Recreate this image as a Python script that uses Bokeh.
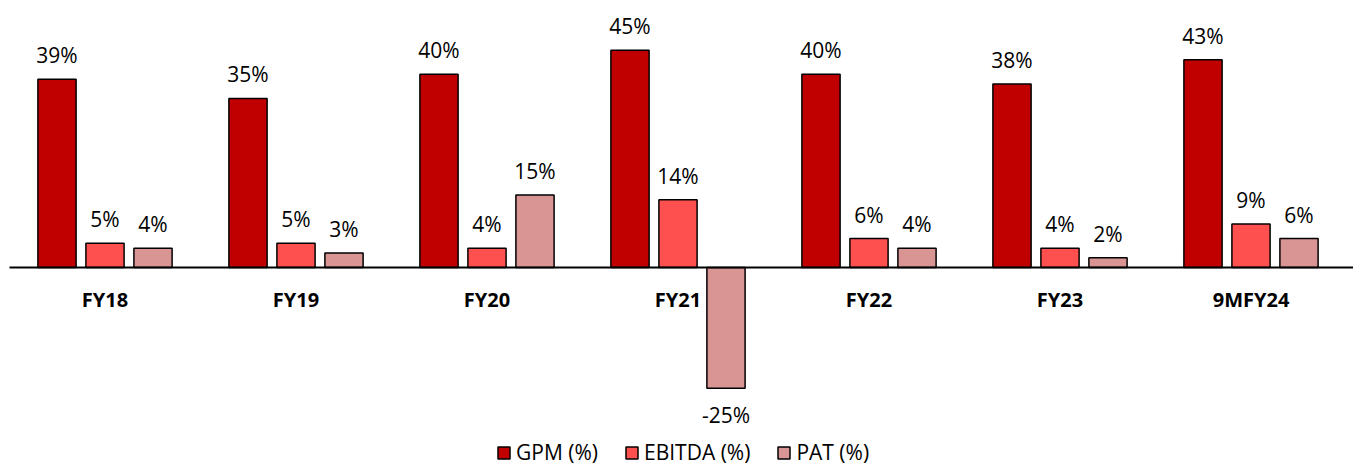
import numpy as np
from bokeh.plotting import figure
from bokeh.models import ColumnDataSource, Range1d, Legend, LegendItem
from bokeh.core.properties import value
from bokeh.embed import file_html
from bokeh.resources import INLINE

# Margin data (%) by fiscal year
years = ["FY18", "FY19", "FY20", "FY21", "FY22", "FY23", "9MFY24"]
gpm = [39, 35, 40, 45, 40, 38, 43]
ebitda = [5, 5, 4, 14, 6, 4, 9]
pat = [4, 3, 15, -25, 4, 2, 6]

series_names = ["GPM (%)", "EBITDA (%)", "PAT (%)"]
series_values = [gpm, ebitda, pat]
series_colors = ["#C00000", "#FF5050", "#D99594"]

W, H = 1353, 465
FONT = "Open Sans"

x = np.arange(len(years), dtype=float)
cat_px = 191.0          # pixels per category slot
left_px = 9.0           # start of first category slot
x_start = -0.5 - left_px / cat_px
x_end = x_start + W / cat_px

p = figure(width=W, height=H, output_backend="svg", toolbar_location=None,
           x_range=Range1d(x_start, x_end), y_range=Range1d(-41.0, 55.28),
           min_border=0, min_border_left=0, min_border_right=0,
           min_border_top=0, min_border_bottom=0)
p.axis.visible = False
p.grid.visible = False
p.outline_line_color = None
p.background_fill_color = "white"
p.border_fill_color = "white"

offsets = [-0.2513, 0.0, 0.2513]
bar_w = 0.2

items = []
for name, vals, col, off in zip(series_names, series_values, series_colors, offsets):
    vals = np.asarray(vals, dtype=float)
    src = ColumnDataSource(dict(
        x=x + off, top=vals,
        label=[f"{v:.0f}%" for v in vals],
        yoff=np.where(vals >= 0, -24.0, 27.0),
    ))
    r = p.vbar(x="x", top="top", bottom=0, width=bar_w, source=src,
               fill_color=col, line_color="black", line_width=1.5)
    p.text(x="x", y="top", text="label", y_offset="yoff", source=src,
           text_align="center", text_baseline="middle",
           text_font=value(FONT), text_font_size="21px", text_color="black")
    items.append(LegendItem(label=name, renderers=[r]))

# zero baseline
p.segment(x0=[x_start + left_px / cat_px], y0=[0], x1=[x_end], y1=[0],
          line_color="black", line_width=2)

# category labels under the baseline
cat_src = ColumnDataSource(dict(x=x, y=np.zeros(len(years)), t=years))
p.text(x="x", y="y", text="t", y_offset=32, source=cat_src,
       text_align="center", text_baseline="middle",
       text_font=value(FONT), text_font_style="bold",
       text_font_size="20px", text_color="black")

legend = Legend(items=items, orientation="horizontal", location=(496, -1),
                glyph_width=15, glyph_height=15, label_height=15,
                label_standoff=5, spacing=26, padding=0, margin=0,
                border_line_color=None, background_fill_alpha=0,
                label_text_font=FONT, label_text_font_size="21px",
                label_text_color="black", label_text_baseline="middle")
p.add_layout(legend)

open("out.html", "w").write(file_html(p, INLINE))
